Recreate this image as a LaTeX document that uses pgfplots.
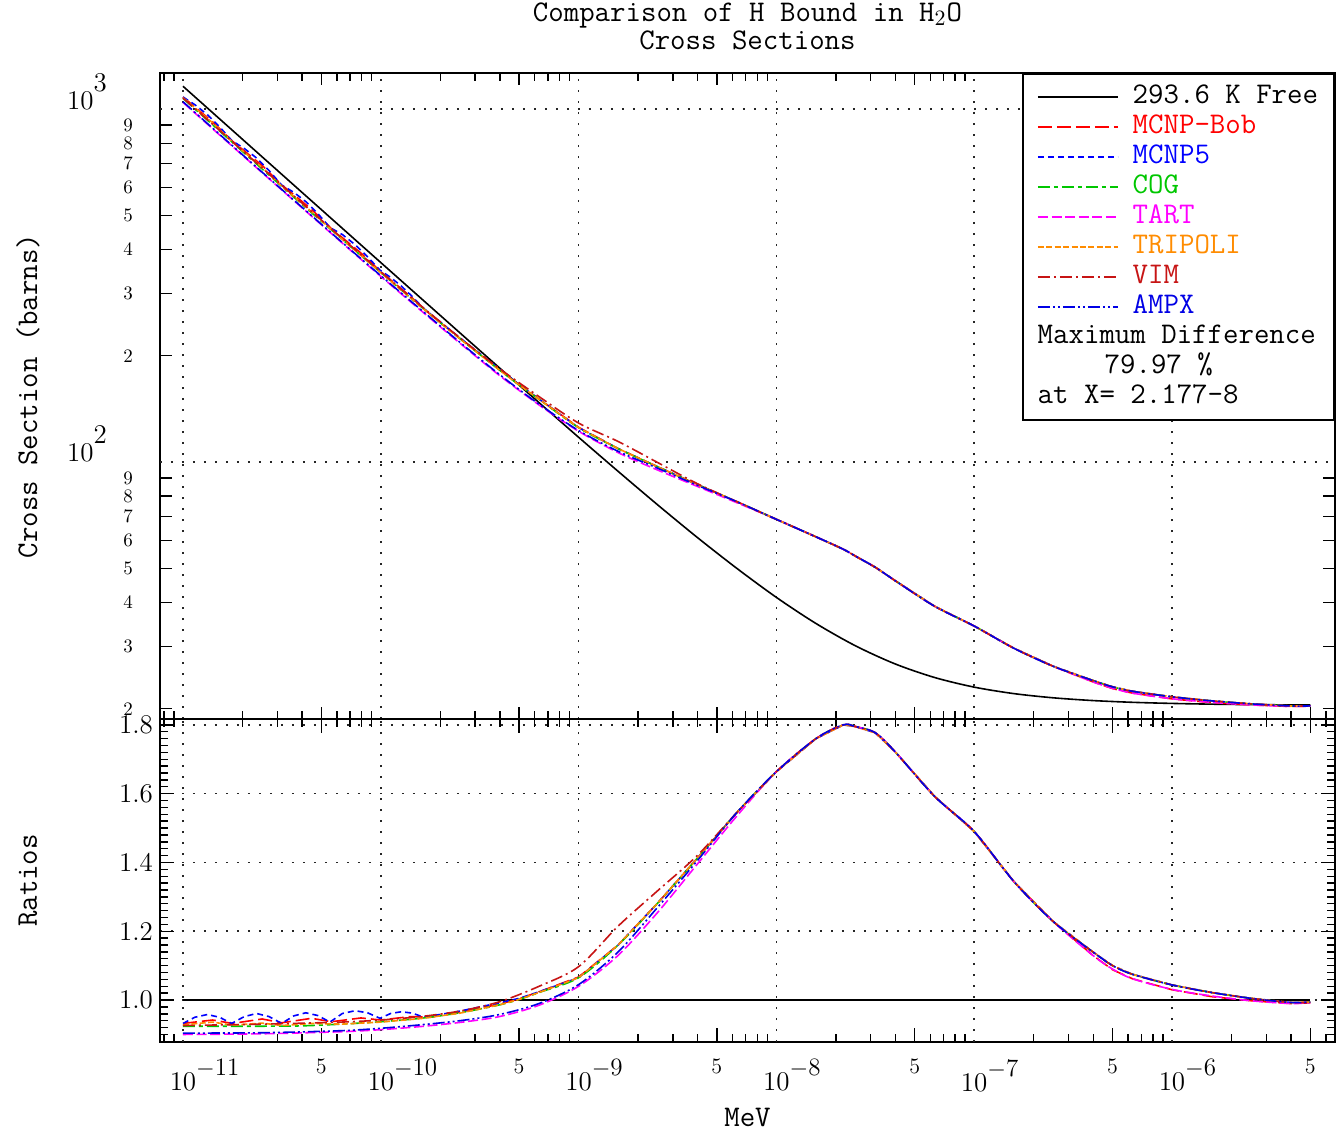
\documentclass[border=0pt]{standalone}
\usepackage{fontspec}
\usepackage{pgfplots}
\usepackage{pgfplotstable}
\pgfplotsset{compat=1.18}

\definecolor{cbob}{rgb}{1,0,0}
\definecolor{cmcnp}{rgb}{0,0,1}
\definecolor{ccog}{rgb}{0,0.78,0}
\definecolor{ctart}{rgb}{1,0,1}
\definecolor{ctrip}{rgb}{1,0.55,0}
\definecolor{cvim}{rgb}{0.78,0.08,0.08}
\definecolor{campx}{rgb}{0,0,0.9}

% free gas reference, 293.6 K
\pgfplotstableread{
E s
1e-11 1160.2
1.585e-11 921.7
2.512e-11 732.2
3.981e-11 581.7
6.310e-11 462.2
1e-10 367.3
1.585e-10 292.0
2.512e-10 232.2
3.981e-10 184.8
6.310e-10 147.3
1e-9 117.5
1.585e-9 94.06
2.512e-9 75.59
3.981e-9 61.14
6.310e-9 49.96
1e-8 41.34
1.585e-8 34.87
2.512e-8 30.14
3.981e-8 26.79
6.310e-8 24.51
1e-7 23.02
1.585e-7 22.07
2.512e-7 21.47
3.981e-7 21.09
6.310e-7 20.85
1e-6 20.70
1.585e-6 20.60
2.512e-6 20.54
3.981e-6 20.50
5.012e-6 20.49
}\tfree

% E, cross section s, ratio to free r
\pgfplotstableread{
E s r
1e-11 1081.3 0.932
1.413e-11 919.6 0.942
1.778e-11 810.8 0.932
2.512e-11 691.9 0.945
3.162e-11 609.3 0.934
4.467e-11 519.8 0.947
5.623e-11 458.5 0.937
7.943e-11 390.7 0.948
1e-10 346.0 0.942
1.413e-10 294.4 0.952
1.778e-10 261.9 0.950
2.512e-10 224.1 0.965
3.981e-10 182.6 0.988
5.012e-10 165.6 1.004
6.310e-10 150.8 1.024
1e-9 125.4 1.067
1.585e-9 109.1 1.160
2.512e-9 96.91 1.282
3.981e-9 86.33 1.412
6.310e-9 77.19 1.545
1e-8 68.79 1.664
1.585e-8 61.37 1.760
2.177e-8 56.61 1.800
2.512e-8 54.10 1.795
3.162e-8 50.31 1.777
3.981e-8 46.13 1.722
6.310e-8 39.02 1.592
1e-7 34.30 1.490
1.585e-7 29.68 1.345
2.512e-7 26.37 1.228
3.981e-7 23.83 1.130
5.012e-7 22.80 1.088
6.310e-7 22.14 1.062
1e-6 21.32 1.030
1.585e-6 20.81 1.010
2.512e-6 20.50 0.998
3.981e-6 20.30 0.990
5.012e-6 20.33 0.992
}\tbob

\pgfplotstableread{
E s r
1e-11 1081.3 0.932
1.148e-11 1028.7 0.950
1.327e-11 964.7 0.958
1.531e-11 890.7 0.950
1.762e-11 814.6 0.932
2.042e-11 773.0 0.952
2.355e-11 726.5 0.961
2.723e-11 669.4 0.952
3.155e-11 608.8 0.932
3.631e-11 580.9 0.954
4.178e-11 546.6 0.963
4.808e-11 505.3 0.955
5.534e-11 461.6 0.936
6.397e-11 440.8 0.961
7.413e-11 412.9 0.969
8.570e-11 381.6 0.963
9.908e-11 349.5 0.947
1.122e-10 333.4 0.961
1.271e-10 314.9 0.966
1.445e-10 294.1 0.962
1.633e-10 273.5 0.951
1.995e-10 249.5 0.958
2.512e-10 224.8 0.968
3.981e-10 183.3 0.992
5.012e-10 165.7 1.005
6.310e-10 150.8 1.024
1e-9 125.1 1.065
1.585e-9 109.1 1.160
2.512e-9 96.91 1.282
3.981e-9 86.33 1.412
6.310e-9 77.19 1.545
1e-8 68.79 1.664
1.585e-8 61.37 1.760
2.177e-8 56.61 1.800
2.512e-8 54.10 1.795
3.162e-8 50.31 1.777
3.981e-8 46.13 1.722
6.310e-8 39.02 1.592
1e-7 34.30 1.490
1.585e-7 29.68 1.345
2.512e-7 26.37 1.228
3.981e-7 24.04 1.140
5.012e-7 23.06 1.100
6.310e-7 22.41 1.075
1e-6 21.61 1.044
1.585e-6 21.05 1.022
2.512e-6 20.64 1.005
3.981e-6 20.36 0.993
5.012e-6 20.37 0.994
}\tmcnp

\pgfplotstableread{
E s r
1e-11 1072.0 0.924
1.585e-11 851.7 0.924
2.512e-11 676.6 0.924
3.981e-11 538.1 0.925
6.310e-11 429.8 0.930
1e-10 344.2 0.937
1.585e-10 276.5 0.947
2.512e-10 223.6 0.963
3.981e-10 182.2 0.986
5.012e-10 165.2 1.002
6.310e-10 150.5 1.022
1e-9 125.1 1.065
1.585e-9 109.1 1.160
2.512e-9 96.91 1.282
3.981e-9 86.33 1.412
6.310e-9 77.19 1.545
1e-8 68.79 1.664
1.585e-8 61.37 1.760
2.177e-8 56.61 1.800
2.512e-8 54.10 1.795
3.162e-8 50.31 1.777
3.981e-8 46.13 1.722
6.310e-8 39.02 1.592
1e-7 34.30 1.490
1.585e-7 29.68 1.345
2.512e-7 26.37 1.228
3.981e-7 24.04 1.140
5.012e-7 23.06 1.100
6.310e-7 22.41 1.075
1e-6 21.61 1.044
1.585e-6 21.05 1.022
2.512e-6 20.64 1.005
3.981e-6 20.36 0.993
5.012e-6 20.37 0.994
}\tcog

\pgfplotstableread{
E s r
1e-11 1044.2 0.900
2.512e-11 660.4 0.902
6.310e-11 419.7 0.908
1e-10 335.7 0.914
1.585e-10 269.5 0.923
2.512e-10 217.1 0.935
3.981e-10 175.9 0.952
6.310e-10 145.1 0.985
1e-9 122.2 1.040
1.585e-9 106.3 1.130
2.512e-9 94.87 1.255
3.981e-9 85.29 1.395
6.310e-9 76.69 1.535
1e-8 68.79 1.664
1.585e-8 61.37 1.760
2.177e-8 56.61 1.800
2.512e-8 54.10 1.795
3.162e-8 50.31 1.777
3.981e-8 46.13 1.722
6.310e-8 39.02 1.592
1e-7 34.30 1.490
1.585e-7 29.68 1.345
2.512e-7 26.37 1.228
3.981e-7 23.83 1.130
5.012e-7 22.85 1.090
6.310e-7 22.14 1.062
1e-6 21.34 1.031
1.585e-6 20.85 1.012
2.512e-6 20.50 0.998
3.981e-6 20.30 0.990
5.012e-6 20.35 0.993
}\ttart

\pgfplotstableread{
E s r
1e-11 1076.7 0.928
1.413e-11 913.7 0.936
1.778e-11 806.5 0.927
2.512e-11 683.1 0.933
3.162e-11 604.1 0.926
4.467e-11 511.6 0.932
6.310e-11 429.8 0.930
1e-10 343.8 0.936
1.585e-10 276.2 0.946
2.512e-10 223.4 0.962
3.981e-10 182.2 0.986
5.012e-10 165.2 1.002
6.310e-10 150.5 1.022
1e-9 125.1 1.065
1.585e-9 109.1 1.160
2.512e-9 96.91 1.282
3.981e-9 86.33 1.412
6.310e-9 77.19 1.545
1e-8 68.79 1.664
1.585e-8 61.37 1.760
2.177e-8 56.61 1.800
2.512e-8 54.10 1.795
3.162e-8 50.31 1.777
3.981e-8 46.13 1.722
6.310e-8 39.02 1.592
1e-7 34.30 1.490
1.585e-7 29.68 1.345
2.512e-7 26.37 1.228
3.981e-7 24.04 1.140
5.012e-7 23.06 1.100
6.310e-7 22.41 1.075
1e-6 21.61 1.044
1.585e-6 21.05 1.022
2.512e-6 20.64 1.005
3.981e-6 20.36 0.993
5.012e-6 20.37 0.994
}\ttrip

\pgfplotstableread{
E s r
1e-11 1074.3 0.926
2.512e-11 681.0 0.930
6.310e-11 432.6 0.936
1e-10 346.0 0.942
1.585e-10 278.0 0.952
2.512e-10 224.8 0.968
3.981e-10 183.9 0.995
6.310e-10 153.2 1.040
1e-9 128.9 1.097
1.585e-9 114.3 1.215
2.512e-9 99.63 1.318
3.981e-9 86.82 1.420
6.310e-9 77.19 1.545
1e-8 68.79 1.664
1.585e-8 61.37 1.760
2.177e-8 56.61 1.800
2.512e-8 54.10 1.795
3.162e-8 50.31 1.777
3.981e-8 46.13 1.722
6.310e-8 39.02 1.592
1e-7 34.30 1.490
1.585e-7 29.68 1.345
2.512e-7 26.37 1.228
3.981e-7 24.04 1.140
5.012e-7 23.06 1.100
6.310e-7 22.41 1.075
1e-6 21.61 1.044
1.585e-6 21.05 1.022
2.512e-6 20.64 1.005
3.981e-6 20.36 0.993
5.012e-6 20.37 0.994
}\tvim

\pgfplotstableread{
E s r
1e-11 1048.8 0.904
2.512e-11 662.6 0.905
6.310e-11 421.1 0.911
1e-10 337.2 0.918
1.585e-10 271.0 0.928
2.512e-10 218.3 0.940
3.981e-10 177.0 0.958
6.310e-10 145.8 0.990
1e-9 122.8 1.045
1.585e-9 107.2 1.140
2.512e-9 96.0 1.270
3.981e-9 85.90 1.405
6.310e-9 77.19 1.545
1e-8 68.79 1.664
1.585e-8 61.37 1.760
2.177e-8 56.61 1.800
2.512e-8 54.10 1.795
3.162e-8 50.31 1.777
3.981e-8 46.13 1.722
6.310e-8 39.02 1.592
1e-7 34.30 1.490
1.585e-7 29.68 1.345
2.512e-7 26.37 1.228
3.981e-7 24.04 1.140
5.012e-7 23.06 1.100
6.310e-7 22.41 1.075
1e-6 21.61 1.044
1.585e-6 21.05 1.022
2.512e-6 20.64 1.005
3.981e-6 20.36 0.993
5.012e-6 20.37 0.994
}\tampx

\tikzset{
  sbob/.style={cbob, dash pattern=on 7pt off 2.5pt},
  smcnp/.style={cmcnp, dash pattern=on 3pt off 2pt},
  scog/.style={ccog, dash pattern=on 6pt off 2pt on 2pt off 2pt},
  start/.style={ctart, dash pattern=on 5pt off 1.8pt},
  strip/.style={ctrip, dash pattern=on 3pt off 1.2pt},
  svim/.style={cvim, dash pattern=on 6pt off 2pt on 1pt off 2pt},
  sampx/.style={campx, dash pattern=on 6pt off 1.5pt on 1pt off 1.5pt on 1pt off 1.5pt},
}
\pgfplotsset{every axis plot/.append style={line width=0.8pt}}
% powers of ten drawn as in the reference: exponent almost full size
\newcommand{\ylog}[1]{{\fontsize{13.5}{15}\selectfont 10\raisebox{9pt}{#1}}}
\newcommand{\xlog}[1]{{\fontsize{13.5}{15}\selectfont 10\rlap{\raisebox{7.5pt}{\fontsize{12.5}{13}\selectfont$-$#1}}}}

\begin{document}
\begin{tikzpicture}
\begin{axis}[name=top, scale only axis, width=587.5pt, height=323pt,
  xmode=log, xmin=7.65e-12, xmax=6.67e-6,
  ymode=log, ymin=18.7, ymax=1265,
  xtick={5e-11,5e-10,5e-9,5e-8,5e-7,5e-6},
  xticklabels={},
  extra x ticks={1e-11,1e-10,1e-9,1e-8,1e-7,1e-6},
  extra x tick labels={},
  extra x tick style={grid=major, major tick length=0pt},
  minor xtick={8e-12,9e-12,2e-11,3e-11,4e-11,6e-11,7e-11,8e-11,9e-11,
    2e-10,3e-10,4e-10,6e-10,7e-10,8e-10,9e-10,2e-9,3e-9,4e-9,6e-9,7e-9,8e-9,9e-9,
    2e-8,3e-8,4e-8,6e-8,7e-8,8e-8,9e-8,2e-7,3e-7,4e-7,6e-7,7e-7,8e-7,9e-7,
    2e-6,3e-6,4e-6,6e-6},
  minor tick length=4pt,
  major tick length=6pt,
  xmajorgrids=false,
  axis line style={line width=0.9pt},
  tick style={black, line width=0.7pt},
  major grid style={black!85, line width=0.8pt, dash pattern=on 0.8pt off 4.7pt},
  ytick={20,30,40,50,60,70,80,90,200,300,400,500,600,700,800,900},
  yticklabels={2,3,4,5,6,7,8,9,2,3,4,5,6,7,8,9},
  ymajorgrids=false, yminorticks=false,
  yticklabel style={font=\fontsize{9.5}{11}\selectfont, xshift=-10pt},
  extra y ticks={100,1000},
  extra y tick labels={\ylog{2},\ylog{3}},
  extra y tick style={grid=major, major tick length=0pt,
    yticklabel style={anchor=base east, xshift=-13pt}},
  ylabel={Cross Section (barns)},
  ylabel style={at={(axis description cs:-0.1123,0.5)}, anchor=center,
    font=\ttfamily\fontsize{15}{15}\selectfont},
  title={Comparison of H Bound in H$_2$O\\Cross Sections},
  title style={align=center, font=\ttfamily\fontsize{15}{14}\selectfont, yshift=2pt},
  legend image code/.code={\draw[#1] (0pt,0pt) -- (40pt,0pt);},
  legend cell align=left,
  legend style={at={(1,1)}, anchor=north east, draw=black, line width=0.9pt,
    fill=white, inner xsep=7pt, inner ysep=4pt, row sep=0pt,
    font=\ttfamily\fontsize{15}{15}\selectfont,
    nodes={inner sep=1pt, text height=10pt, text depth=3pt},
    /tikz/every odd column/.append style={column sep=6pt}},
]
\addplot[black, smooth] table[x=E,y=s] {\tfree};
\addlegendentry{293.6 K Free}
\addplot[sbob] table[x=E,y=s] {\tbob};
\addlegendentry{\textcolor{cbob}{MCNP-Bob}}
\addplot[smcnp] table[x=E,y=s] {\tmcnp};
\addlegendentry{\textcolor{cmcnp}{MCNP5}}
\addplot[scog, smooth] table[x=E,y=s] {\tcog};
\addlegendentry{\textcolor{ccog}{COG}}
\addplot[start, smooth] table[x=E,y=s] {\ttart};
\addlegendentry{\textcolor{ctart}{TART}}
\addplot[strip] table[x=E,y=s] {\ttrip};
\addlegendentry{\textcolor{ctrip}{TRIPOLI}}
\addplot[svim, smooth] table[x=E,y=s] {\tvim};
\addlegendentry{\textcolor{cvim}{VIM}}
\addplot[sampx, smooth] table[x=E,y=s] {\tampx};
\addlegendentry{\textcolor{campx}{AMPX}}
\addlegendimage{empty legend}
\addlegendentry{\hspace*{-47.5pt}Maximum Difference}
\addlegendimage{empty legend}
\addlegendentry{\hspace*{-14pt}79.97 \%}
\addlegendimage{empty legend}
\addlegendentry{\hspace*{-47.5pt}at X= 2.177-8}
\end{axis}

\begin{axis}[name=bot, at={(top.south west)}, anchor=north west,
  scale only axis, width=587.5pt, height=161.5pt,
  xmode=log, xmin=7.65e-12, xmax=6.67e-6,
  ymin=0.878, ymax=1.817,
  xtick={5e-11,5e-10,5e-9,5e-8,5e-7,5e-6},
  xticklabels={5,5,5,5,5,5},
  xticklabel style={font=\fontsize{11}{13}\selectfont, yshift=-5pt},
  extra x ticks={1e-11,1e-10,1e-9,1e-8,1e-7,1e-6},
  extra x tick labels={\xlog{11},\xlog{10},\xlog{9},\xlog{8},\xlog{7},\xlog{6}},
  extra x tick style={grid=major, major tick length=0pt},
  minor xtick={8e-12,9e-12,2e-11,3e-11,4e-11,6e-11,7e-11,8e-11,9e-11,
    2e-10,3e-10,4e-10,6e-10,7e-10,8e-10,9e-10,2e-9,3e-9,4e-9,6e-9,7e-9,8e-9,9e-9,
    2e-8,3e-8,4e-8,6e-8,7e-8,8e-8,9e-8,2e-7,3e-7,4e-7,6e-7,7e-7,8e-7,9e-7,
    2e-6,3e-6,4e-6,6e-6},
  minor tick length=4pt,
  major tick length=7pt,
  xmajorgrids=false,
  axis line style={line width=0.9pt},
  tick style={black, line width=0.7pt},
  major grid style={black!85, line width=0.8pt, dash pattern=on 0.8pt off 4.7pt},
  ytick={1.0,1.2,1.4,1.6,1.8},
  yticklabels={1.0,1.2,1.4,1.6,1.8},
  minor ytick={0.88,0.90,...,1.81},
  ymajorgrids=true,
  yticklabel style={font=\fontsize{13.5}{15}\selectfont},
  ylabel={Ratios},
  ylabel style={at={(axis description cs:-0.1123,0.5)}, anchor=center,
    font=\ttfamily\fontsize{15}{15}\selectfont},
  xlabel={MeV},
  xlabel style={at={(axis description cs:0.5,-0.232)}, anchor=center,
    font=\ttfamily\fontsize{15}{15}\selectfont},
]
\addplot[black, line width=0.9pt] coordinates {(1e-11,1) (5.012e-6,1)};
\addplot[sbob] table[x=E,y=r] {\tbob};
\addplot[smcnp] table[x=E,y=r] {\tmcnp};
\addplot[scog, smooth] table[x=E,y=r] {\tcog};
\addplot[start, smooth] table[x=E,y=r] {\ttart};
\addplot[strip] table[x=E,y=r] {\ttrip};
\addplot[svim, smooth] table[x=E,y=r] {\tvim};
\addplot[sampx, smooth] table[x=E,y=r] {\tampx};
\end{axis}

\pgfresetboundingbox
\path[use as bounding box] ([xshift=-80pt,yshift=36.5pt]top.north west)
  rectangle ([xshift=591pt,yshift=-529.5pt]top.north west);
\end{tikzpicture}
\end{document}
